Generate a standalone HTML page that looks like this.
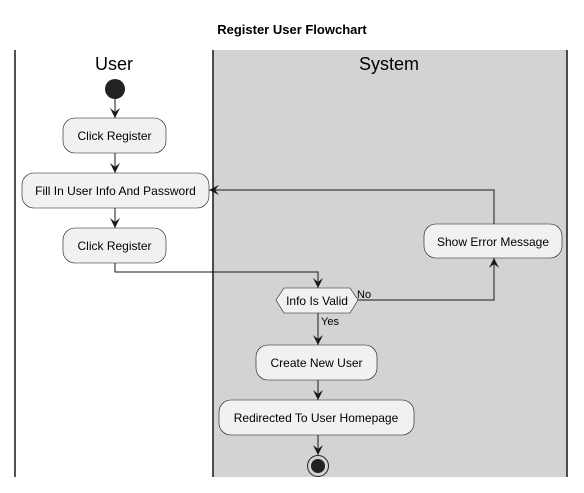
<!DOCTYPE html>
<html><head><style>body{margin:0;background:#fff}</style></head><body>
<svg width="584" height="488" xmlns="http://www.w3.org/2000/svg" font-family="Liberation Sans, sans-serif">
<defs><marker id="a" viewBox="0 0 10 10" refX="10" refY="5" markerWidth="10" markerHeight="10" orient="auto" markerUnits="userSpaceOnUse"><path d="M0,0 L10,5 L0,10 L4,5 Z" fill="#181818"/></marker></defs>
<text x="292" y="34" text-anchor="middle" font-size="13" font-weight="bold">Register User Flowchart</text>
<rect x="213" y="50" width="354" height="427" fill="#d3d3d3"/>
<g stroke="#181818" stroke-width="1.5">
<line x1="15" y1="50" x2="15" y2="477"/><line x1="213" y1="50" x2="213" y2="477"/><line x1="567" y1="50" x2="567" y2="477"/>
</g>
<text x="114" y="70" text-anchor="middle" font-size="18">User</text>
<text x="389" y="70" text-anchor="middle" font-size="18">System</text>
<circle cx="115" cy="89" r="10" fill="#222"/>
<g fill="#f1f1f1" stroke="#181818" stroke-width="0.6">
<rect x="63" y="118" width="103" height="35" rx="12"/>
<rect x="22" y="173" width="187" height="35" rx="12"/>
<rect x="63" y="228" width="103" height="35" rx="12"/>
<rect x="424" y="224" width="138" height="34" rx="12"/>
<polygon points="276,300 284,288 350,288 358,300 350,313 284,313"/>
<rect x="256" y="345" width="121" height="35" rx="12"/>
<rect x="219" y="400" width="195" height="35" rx="12"/>
</g>
<g stroke="#181818" stroke-width="1" fill="none" marker-end="url(#a)">
<line x1="115" y1="99" x2="115" y2="118"/>
<line x1="115" y1="153" x2="115" y2="173"/>
<line x1="115" y1="208" x2="115" y2="228"/>
<polyline points="115,263 115,272 318,272 318,288"/>
<polyline points="358,300 494,300 494,258"/>
<polyline points="494,224 494,190 209,190"/>
<line x1="318" y1="313" x2="318" y2="345"/>
<line x1="318" y1="380" x2="318" y2="400"/>
<line x1="318" y1="435" x2="318" y2="455"/>
</g>
<circle cx="318" cy="466" r="10.5" fill="none" stroke="#222" stroke-width="1"/>
<circle cx="318" cy="466" r="7" fill="#222"/>
<g font-size="12" fill="#000">
<text x="114.5" y="140" text-anchor="middle">Click Register</text>
<text x="115.5" y="195" text-anchor="middle">Fill In User Info And Password</text>
<text x="114.5" y="250" text-anchor="middle">Click Register</text>
<text x="493" y="246" text-anchor="middle">Show Error Message</text>
<text x="317" y="305" text-anchor="middle">Info  Is Valid</text>
<text x="316.5" y="367" text-anchor="middle">Create New User</text>
<text x="316" y="422" text-anchor="middle">Redirected To User Homepage</text>
<text x="357" y="298" font-size="11">No</text>
<text x="321" y="325" font-size="11">Yes</text>
</g>
</svg>
</body></html>
